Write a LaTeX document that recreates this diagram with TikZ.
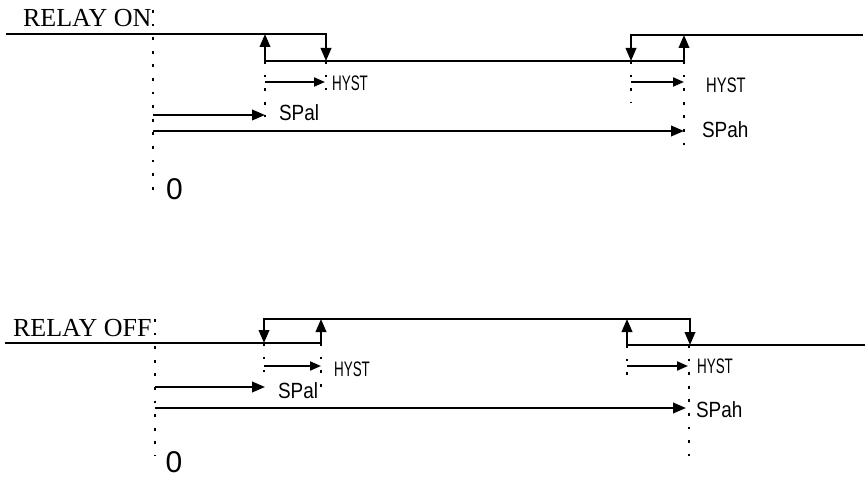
\documentclass[tikz,border=0pt]{standalone}
\usepackage{fontspec}
\setmainfont{Liberation Serif}
\setsansfont{Liberation Sans}
\newfontfamily\hystfont[FakeStretch=0.64]{Liberation Sans}
\newfontfamily\spfont[FakeStretch=0.86]{Liberation Sans}
\usetikzlibrary{arrows.meta}

\begin{document}
\begin{tikzpicture}[x=1pt, y=-1pt, line width=2.2pt, >={Triangle[length=13pt,width=10.5pt]}]
\tikzset{
  guide/.style={line width=2.8pt, dash pattern=on 2.8pt off 10.8pt},
  hyst arrow/.style={-{Triangle[length=11pt,width=9pt]}, line width=2pt},
  relay label/.style={font=\fontsize{26}{26}\selectfont, inner sep=0, anchor=base west},
  sp label/.style={font=\spfont\fontsize{22}{22}\selectfont, inner sep=0, anchor=west},
  hyst label/.style={font=\hystfont\fontsize{21}{21}\selectfont, inner sep=0, anchor=west},
  zero label/.style={font=\sffamily\fontsize{30}{30}\selectfont, inner sep=0}
}
\useasboundingbox (0,0) rectangle (865,481);

% dotted guides
\foreach \x/\ya/\yb in {153/10/196, 265/61/117, 326/61/90, 631/61/102, 684/61/145,
                        155/319/456, 264/343/372, 321/343/388, 627/345/375, 689/345/456}
  \draw[guide] (\x,\ya) -- (\x,\yb);

% relay on
\node[relay label] (on-title) at (22,27) {RELAY ON};
\coordinate (on-start) at (6,34);
\coordinate (on-a) at (265,34);
\coordinate (on-b) at (326,61);
\coordinate (on-c) at (631,61);
\coordinate (on-d) at (684,35);
\coordinate (on-end) at (863,35);

\draw[->] (on-start) -| (on-b);
\draw[<->] (on-a) |- (on-d |- on-b) -- (on-d);
\draw[->] (on-end) -| (on-c);

\coordinate (on-h1) at (265,82);
\coordinate (on-h2) at (631,82);
\draw[hyst arrow] (on-h1) -- ++(60,0);
\node[hyst label] (on-hyst1) at (331,83) {HYST};
\draw[hyst arrow] (on-h2) -- ++(53,0);
\node[hyst label, xscale=1.1] (on-hyst2) at (705,85.5) {HYST};

\coordinate (on-zero-l) at (153,115);
\coordinate (on-zero-h) at (153,131);
\draw[->] (on-zero-l) -- (265,115);
\node[sp label] (on-spal) at (278,113) {SPal};
\draw[->] (on-zero-h) -- (684,131);
\node[sp label] (on-spah) at (701,130) {SPah};

\node[zero label] (on-zero) at (174.5,189.5) {0};

% relay off
\node[relay label] (off-title) at (12,336.5) {RELAY OFF};
\coordinate (off-start) at (5,343);
\coordinate (off-a) at (264,343);
\coordinate (off-b) at (321,319);
\coordinate (off-c) at (627,319);
\coordinate (off-d) at (690,345);
\coordinate (off-end) at (865,345);

\draw[->] (off-start) -| (off-b);
\draw[<->] (off-a) |- (off-d |- off-b) -- (off-d);
\draw[->] (off-end) -| (off-c);

\coordinate (off-h1) at (264,366);
\coordinate (off-h2) at (627,366);
\draw[hyst arrow] (off-h1) -- ++(57,0);
\node[hyst label] (off-hyst1) at (333,369) {HYST};
\draw[hyst arrow] (off-h2) -- ++(61,0);
\node[hyst label] (off-hyst2) at (696,366) {HYST};

\coordinate (off-zero-l) at (155,387);
\coordinate (off-zero-h) at (155,408);
\draw[->] (off-zero-l) -- (265,387);
\node[sp label] (off-spal) at (277,390.5) {SPal};
\draw[->] (off-zero-h) -- (686,408);
\node[sp label] (off-spah) at (695,410) {SPah};

\node[zero label] (off-zero) at (174,462) {0};
\end{tikzpicture}
\end{document}
